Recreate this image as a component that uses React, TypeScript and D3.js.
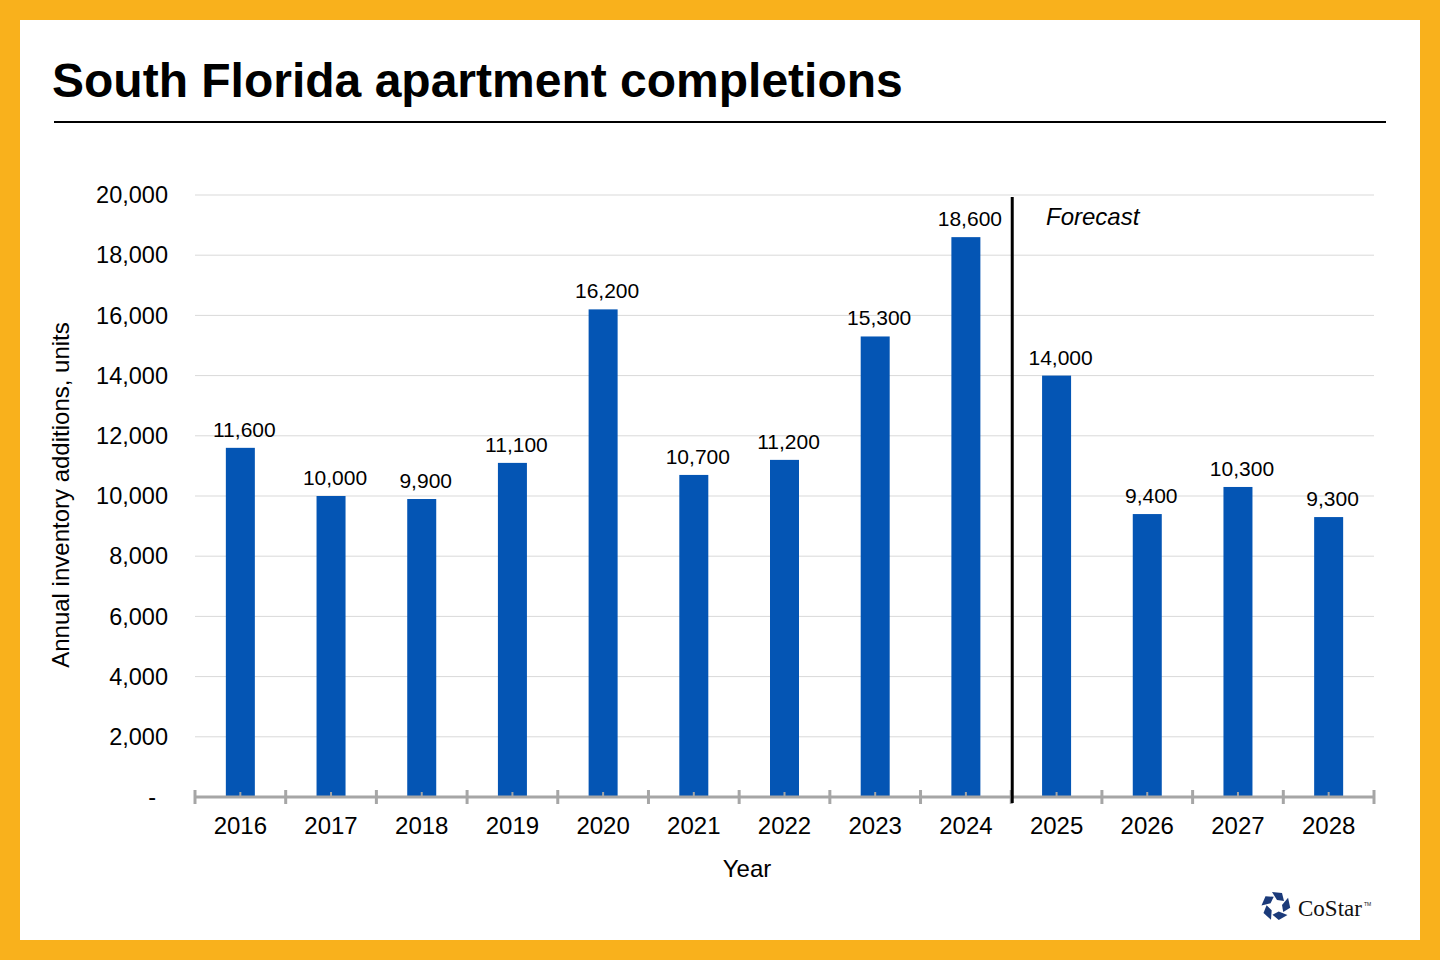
import React from "react";
import * as d3 from "d3";

const years = ["2016","2017","2018","2019","2020","2021","2022","2023","2024","2025","2026","2027","2028"];
const completions = [11600,10000,9900,11100,16200,10700,11200,15300,18600,14000,9400,10300,9300];
const yTicks = [0,2000,4000,6000,8000,10000,12000,14000,16000,18000,20000];
const forecastStart = "2025";

const W = 1440, H = 960;
const FONT = "Arial, 'Liberation Sans', Helvetica, sans-serif";

export default function App() {
  const left = 195, right = 1374, top = 195, bottom = 797;
  const x = d3.scaleBand<string>().domain(years).range([left, right]).paddingInner(0).paddingOuter(0);
  const y = d3.scaleLinear().domain([0, 20000]).range([bottom, top]);
  const bw = 29;
  const fmt = d3.format(",");
  const fx = x(forecastStart)!;
  const boundaries = years.map(yr => x(yr)!).concat([right]);

  const lc = { x: 1276, y: 906 };
  const piece = "M -4 -14 L 6 -13 L 8 -5 L 1 -6 Z";

  return (
    <svg width={W} height={H} style={{ display: "block", position: "absolute", left: 0, top: 0 }}>
      <rect x={0} y={0} width={W} height={H} fill="#F9B11C" />
      <rect x={20} y={20} width={1400} height={920} fill="#ffffff" />
      <text x={52} y={97} fontFamily={FONT} fontWeight="bold" fontSize={48} fill="#000">South Florida apartment completions</text>
      <line x1={54} x2={1386} y1={122} y2={122} stroke="#000" strokeWidth={2} />

      {yTicks.filter(t => t > 0).map(t => (
        <line key={t} x1={left} x2={right} y1={y(t)} y2={y(t)} stroke="#d9d9d9" strokeWidth={1} />
      ))}
      {yTicks.map(t => (
        <text key={t} x={t === 0 ? 156 : 168} y={y(t)} dy="0.35em" textAnchor="end" fontFamily={FONT} fontSize={23.5} fill="#000">
          {t === 0 ? "-" : fmt(t)}
        </text>
      ))}

      {years.map((yr, i) => {
        const cx = x(yr)! + x.bandwidth() / 2;
        return (
          <g key={yr}>
            <rect x={cx - bw / 2} y={y(completions[i])} width={bw} height={bottom - y(completions[i])} fill="#0455B4" />
            <text x={cx + 4} y={y(completions[i]) - 11} textAnchor="middle" fontFamily={FONT} fontSize={21} fill="#000">
              {fmt(completions[i])}
            </text>
            <line x1={cx} x2={cx} y1={792} y2={797} stroke="#a6a6a6" strokeWidth={2} />
            <text x={cx} y={826} dy="0.35em" textAnchor="middle" fontFamily={FONT} fontSize={24} fill="#000">{yr}</text>
          </g>
        );
      })}

      <line x1={left} x2={right} y1={797} y2={797} stroke="#a6a6a6" strokeWidth={3} />
      {boundaries.map((b, i) => (
        <line key={i} x1={b} x2={b} y1={790} y2={804} stroke="#a6a6a6" strokeWidth={3} />
      ))}

      <line x1={fx + 1} x2={fx + 1} y1={197} y2={803} stroke="#000" strokeWidth={3} />
      <text x={1046} y={225} fontFamily={FONT} fontStyle="italic" fontSize={24} fill="#000">Forecast</text>

      <text x={747} y={869} dy="0.35em" textAnchor="middle" fontFamily={FONT} fontSize={24} fill="#000">Year</text>
      <text transform={`translate(61,495) rotate(-90)`} textAnchor="middle" dy="0.35em" fontFamily={FONT} fontSize={24} fill="#000">
        Annual inventory additions, units
      </text>

      <g transform={`translate(${lc.x},${lc.y})`}>
        {[0, 72, 144, 216, 288].map(a => (
          <path key={a} d={piece} transform={`rotate(${a})`} fill="#1B3A7A" />
        ))}
      </g>
      <text x={1298} y={916} fontFamily="'Liberation Serif', 'DejaVu Serif', serif" fontSize={23} fill="#111">CoStar</text>
      <text x={1364} y={906} fontFamily={FONT} fontSize={5} fill="#111">TM</text>
    </svg>
  );
}
